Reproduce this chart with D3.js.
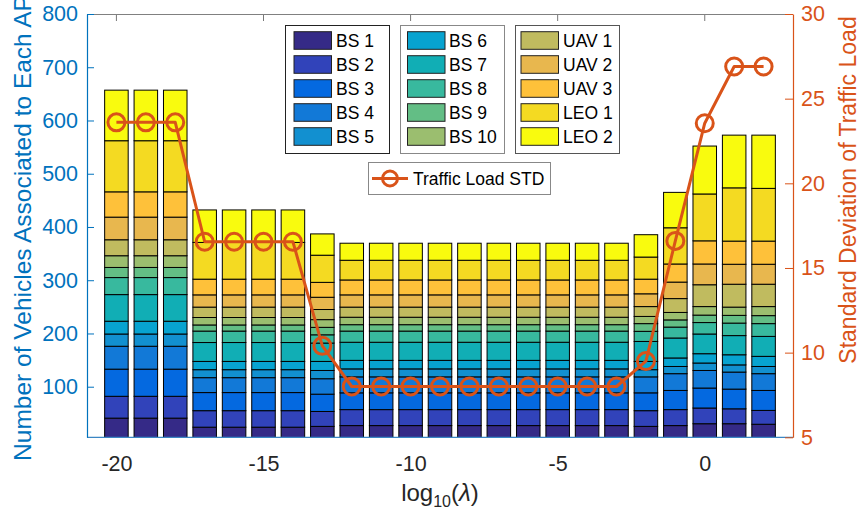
<!DOCTYPE html>
<html>
<head>
<meta charset="utf-8">
<script src="https://cdn.jsdelivr.net/npm/d3@7"></script>
<style>
  html, body { margin: 0; padding: 0; background: #fff; }
  svg { display: block; }
  text { font-family: "Liberation Sans", Arial, Helvetica, sans-serif; }
</style>
</head>
<body>
<svg id="chart" width="863" height="519"></svg>
<script>
// ---------------- DATA ----------------
const lambdaLog = [-20,-19,-18,-17,-16,-15,-14,-13,-12,-11,-10,-9,-8,-7,-6,-5,-4,-3,-2,-1,0,1,2];
const seriesNames = ["BS 1","BS 2","BS 3","BS 4","BS 5","BS 6","BS 7","BS 8","BS 9","BS 10","UAV 1","UAV 2","UAV 3","LEO 1","LEO 2"];
const seriesColors = ["#352A87","#3143BA","#0469E0","#1279D7","#1290D0","#07A3D0","#11AEB5","#38B99E","#63BE85","#9BBE6F","#C0BB5F","#E8B74E","#FEC13A","#F4DA22","#F9FB0E"];

const BS1  = [41,41,41,24,24,24,24,25.5,27,27,27,27,27,27,27,27,27,27,25.5,27,30.5,30.5,29.5];
const BS2  = [41,41,41,31,31,31,31,28,30,30,30,30,30,30,30,30,30,30,29.5,30,29.5,28,26];
const BS3  = [51,51,51,34,34,34,34,32.5,31.5,31.5,31.5,31.5,31.5,31.5,31.5,31.5,31.5,31.5,33.5,36,37.5,37,37.5];
const BS4  = [43,43,43,28,28,28,28,29,30,30,30,30,30,30,30,30,30,30,30,31.5,33,32,31.5];
const BS5  = [23,23,23,15,15,15,15,15.5,15,15,15,15,15,15,15,15,15,15,13.5,13.5,14,13.5,13.5];
const BS6  = [24,24,24,15.5,15.5,15.5,15.5,17,16,16,16,16,16,16,16,16,16,16,15.5,16,17.5,19,19];
const BS7  = [50,50,50,35.5,35.5,35.5,35.5,34.5,34,34,34,34,34,34,34,34,34,34,37.5,37.5,37,36,37.5];
const BS8  = [32,32,32,21.5,21.5,21.5,21.5,15.5,21,21,21,21,21,21,21,21,21,21,19,20.5,21.5,23.5,24];
const BS9  = [19,19,19,11.5,11.5,11.5,11.5,14,12,12,12,12,12,12,12,12,12,12,14.5,13.5,14,14.5,15];
const BS10 = [22,22,22,14,14,14,14,14.5,14,14,14,14,14,14,14,14,14,14,13.5,14,16,15.5,17];
const UAV1 = [30,30,30,19.5,19.5,19.5,19.5,19,19,19,19,19,19,19,19,19,19,19,18.5,26,41,43,42];
const UAV2 = [42.5,42.5,42.5,23,23,23,23,23,23,23,23,23,23,23,23,23,23,23,24,31,39,37.5,37.5];
const UAV3 = [47.5,47.5,47.5,29.5,29.5,29.5,29.5,28,28,28,28,28,28,28,28,28,28,28,27.5,34,43.5,43.5,43.5];
const LEO1 = [96,96,96,69,69,69,69,51,37,37,37,37,37,37,37,37,37,37,41.5,68,88,100,99];
const LEO2 = [95,95,95,61,61,61,61,40,32,32,32,32,32,32,32,32,32,32,42,66.5,90,99,100];

const trafficSTD = [23.6,23.6,23.6,16.55,16.55,16.55,16.55,10.4,8.0,8.0,8.0,8.0,8.0,8.0,8.0,8.0,8.0,8.0,9.5,16.6,23.55,26.9,26.9];

const xTicks = [-20,-15,-10,-5,0];
const leftTicks = [100,200,300,400,500,600,700,800];
const rightTicks = [5,10,15,20,25,30];

const seriesValues = [BS1,BS2,BS3,BS4,BS5,BS6,BS7,BS8,BS9,BS10,UAV1,UAV2,UAV3,LEO1,LEO2];

// ---------------- LAYOUT ----------------
const L = 87, R = 793, T = 14, B = 437.3;
const blue = "#0072BD", orange = "#D95319", dark = "#262626";

const svg = d3.select("#chart");
svg.append("rect").attr("width",863).attr("height",519).attr("fill","#fff");

const x = d3.scaleLinear().domain([-21,3]).range([L,R]);
const yL = d3.scaleLinear().domain([5,800]).range([B,T]);
const yR = d3.scaleLinear().domain([5,30]).range([B,T]);

// table for stack
const table = lambdaLog.map((v,i) => {
  const row = {x: v};
  seriesNames.forEach((n,k) => row[n] = seriesValues[k][i]);
  return row;
});
const stacked = d3.stack().keys(seriesNames)(table);

svg.append("defs").append("clipPath").attr("id","plotclip")
  .append("rect").attr("x",L).attr("y",T).attr("width",R-L).attr("height",B-T);

// x ticks (inside, bottom & top)
const gx = svg.append("g");
xTicks.forEach(t => {
  gx.append("line").attr("x1",x(t)).attr("x2",x(t)).attr("y1",B).attr("y2",B-7).attr("stroke",dark).attr("stroke-width",1);
  gx.append("line").attr("x1",x(t)).attr("x2",x(t)).attr("y1",T).attr("y2",T+7).attr("stroke","#777").attr("stroke-width",1);
});

// bars
const bw = (x(0.8) - x(0));
const gBars = svg.append("g").attr("clip-path","url(#plotclip)");
stacked.forEach((layer,k) => {
  gBars.append("g").selectAll("rect").data(layer).join("rect")
    .attr("x", d => x(d.data.x) - bw/2)
    .attr("width", bw)
    .attr("y", d => yL(d[1]))
    .attr("height", d => yL(d[0]) - yL(d[1]))
    .attr("fill", seriesColors[k])
    .attr("stroke", "#000")
    .attr("stroke-width", 1);
});

// axes lines
svg.append("line").attr("x1",L).attr("x2",R).attr("y1",T+0.5).attr("y2",T+0.5).attr("stroke","#808080").attr("stroke-width",1.2);
svg.append("line").attr("x1",L).attr("x2",R).attr("y1",B).attr("y2",B).attr("stroke","#3b86c4").attr("stroke-width",1.2);

// left axis
const axL = d3.axisLeft(yL).tickValues(leftTicks).tickSizeInner(-7).tickSizeOuter(0).tickPadding(9);
const gL = svg.append("g").attr("transform",`translate(${L},0)`).call(axL);
gL.select(".domain").attr("stroke",blue).attr("stroke-width",1.2);
gL.selectAll(".tick line").attr("stroke",blue);
gL.selectAll(".tick text").attr("fill",blue).style("font-size","21.5px").attr("font-family",null);

// right axis
const axR = d3.axisRight(yR).tickValues(rightTicks).tickSizeInner(-8).tickSizeOuter(0).tickPadding(8);
const gR = svg.append("g").attr("transform",`translate(${R},0)`).call(axR);
gR.select(".domain").attr("stroke",orange).attr("stroke-width",1.2);
gR.selectAll(".tick line").attr("stroke",orange);
gR.selectAll(".tick text").attr("fill",orange).style("font-size","21.5px").attr("font-family",null);

// x tick labels
const axB = d3.axisBottom(x).tickValues(xTicks).tickSize(0).tickPadding(18).tickFormat(d => String(d));
const gB = svg.append("g").attr("transform",`translate(0,${B})`).call(axB);
gB.select(".domain").remove();
gB.selectAll(".tick text").attr("fill",dark).style("font-size","21.5px").attr("font-family",null);

// axis labels
svg.append("text").attr("transform","translate(31,228) rotate(-90)").attr("text-anchor","middle")
  .attr("fill",blue).style("font-size","24.5px").text("Number of Vehicles Associated to Each AP");
svg.append("text").attr("transform","translate(856,190) rotate(-90)").attr("text-anchor","middle")
  .attr("fill",orange).style("font-size","23px").text("Standard Deviation of Traffic Load");
const xl = svg.append("text").attr("x",440).attr("y",501).attr("text-anchor","middle").attr("fill",dark).style("font-size","24px");
xl.append("tspan").text("log");
xl.append("tspan").attr("dy",6).style("font-size","16px").text("10");
xl.append("tspan").attr("dy",-6).text("(");
xl.append("tspan").style("font-style","italic").text("λ");
xl.append("tspan").text(")");

// STD line
const line = d3.line().x((d,i) => x(lambdaLog[i])).y(d => yR(d));
svg.append("path").datum(trafficSTD).attr("d",line).attr("fill","none").attr("stroke",orange).attr("stroke-width",3).attr("stroke-linejoin","round");
svg.append("g").selectAll("circle").data(trafficSTD).join("circle")
  .attr("cx",(d,i) => x(lambdaLog[i])).attr("cy", d => yR(d)).attr("r",8.5)
  .attr("fill","none").attr("stroke",orange).attr("stroke-width",3);

// legends
const boxes = [
  {x:285, w:104, sw:9, tw:51, stroke:"#222", items:[0,1,2,3,4]},
  {x:400, w:104, sw:7.5, tw:49, stroke:"#888", items:[5,6,7,8,9]},
  {x:515, w:104, sw:6, tw:48, stroke:"#555", items:[10,11,12,13,14]}
];
boxes.forEach(bx => {
  const g = svg.append("g");
  g.append("rect").attr("x",bx.x+0.5).attr("y",25.5).attr("width",bx.w).attr("height",128)
    .attr("fill","#fff").attr("stroke",bx.stroke).attr("stroke-width",1);
  bx.items.forEach((k,i) => {
    const cy = 40.5 + 24*i;
    g.append("rect").attr("x",bx.x+bx.sw).attr("y",cy-8.8).attr("width",37.5).attr("height",17.6)
      .attr("fill",seriesColors[k]).attr("stroke","#222").attr("stroke-width",1);
    g.append("text").attr("x",bx.x+bx.tw).attr("y",cy+6.5).attr("fill","#000").style("font-size","17.5px").text(seriesNames[k]);
  });
});
const gl = svg.append("g");
gl.append("rect").attr("x",368.5).attr("y",162.5).attr("width",182).attr("height",32).attr("fill","#fff").attr("stroke","#888").attr("stroke-width",1);
gl.append("line").attr("x1",372).attr("x2",408).attr("y1",178.5).attr("y2",178.5).attr("stroke",orange).attr("stroke-width",3);
gl.append("circle").attr("cx",390).attr("cy",178.5).attr("r",7.5).attr("fill","none").attr("stroke",orange).attr("stroke-width",3);
gl.append("text").attr("x",413).attr("y",185).attr("fill","#000").style("font-size","17.5px").text("Traffic Load STD");
</script>
</body>
</html>
